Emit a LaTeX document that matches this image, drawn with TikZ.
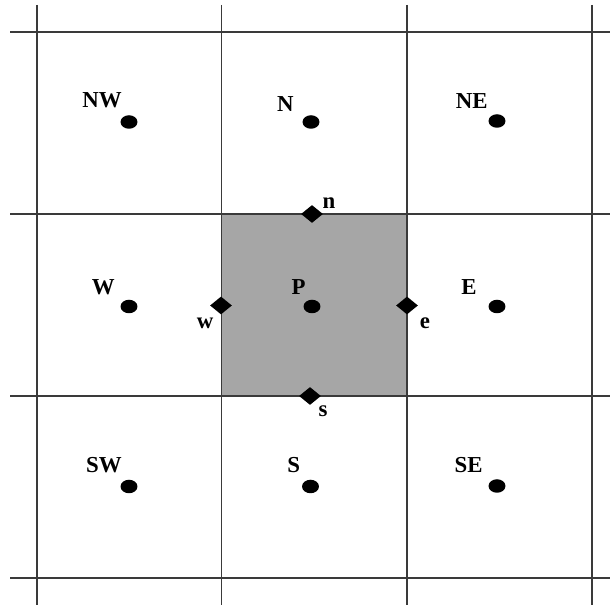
\documentclass[tikz,border=0pt]{standalone}
\usepackage{fontspec}
\setmainfont{Liberation Serif}
\usepackage{tikz}
\usetikzlibrary{positioning,shapes.geometric,calc}
\definecolor{cellgray}{HTML}{A6A6A6}
\definecolor{gridline}{HTML}{3A3A3A}

\begin{document}
\begin{tikzpicture}[
        x=0.02cm, y=-0.02cm,
        line/.style={draw=gridline, line width=0.7pt},
        dot/.style={ellipse, fill=black, inner sep=0pt, minimum width=0.34cm, minimum height=0.27cm},
        face/.style={diamond, fill=black, inner sep=0pt, minimum width=0.44cm, minimum height=0.36cm},
        caplbl/.style={font=\fontsize{13}{15}\selectfont\bfseries, inner sep=0pt, anchor=south east},
        facelbl/.style={font=\fontsize{13}{15}\selectfont\bfseries, inner sep=0pt}
    ]
    \useasboundingbox (0,0) rectangle (613,607);
    % control volume around P
    \fill[cellgray] (221.5,214) rectangle (407,396);
    % grid
    \foreach \x in {37,221.5,407,592}
        \draw[line] (\x,5) -- (\x,605);
    \foreach \y in {32,214,396,578}
        \draw[line] (10,\y) -- (610,\y);
    % nodes
    \foreach \name/\x/\y in {NW/129/122, N/311/122, NE/497/121,
                             W/129/306.5, P/312/306.5, E/497/306.5,
                             SW/129/486.5, S/310.5/486.5, SE/497/486}
        \node[dot] (\name) at (\x,\y) {};
    \foreach \name/\dx/\dy in {NW/-7/-14, N/-17/-10, NE/-9/-12,
                               W/-14/-11, P/-6/-12, E/-20/-12,
                               SW/-7/-13, S/-10/-13, SE/-14/-13}
        \node[caplbl] (\name-lbl) at ($(\name)+(\dx,\dy)$) {\name};
    % faces
    \node[face] (n) at (312,214) {};
    \node[face] (s) at (310,396) {};
    \node[face] (w) at (221,305.5) {};
    \node[face] (e) at (407,305.5) {};
    \node[facelbl] (n-lbl) at ($(n)+(17,-11)$) {n};
    \node[facelbl] (s-lbl) at ($(s)+(13,15)$) {s};
    \node[facelbl] (w-lbl) at ($(w)+(-16,17.5)$) {w};
    \node[facelbl] (e-lbl) at ($(e)+(18,17.5)$) {e};
\end{tikzpicture}
\end{document}
